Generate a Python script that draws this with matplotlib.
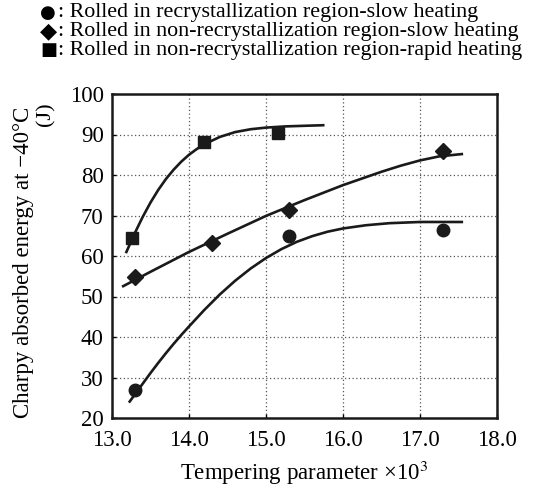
import matplotlib
matplotlib.use("Agg")
import matplotlib.pyplot as plt

plt.rcParams['font.family'] = ['Liberation Serif', 'DejaVu Sans']
plt.rcParams['mathtext.fontset'] = 'stix'

# Measured points
circle_x = [13.3, 15.3, 17.3]
circle_y = [26.9, 65.0, 66.4]
diamond_x = [13.3, 14.3, 15.3, 17.3]
diamond_y = [54.9, 63.1, 71.4, 86.0]
square_x = [13.26, 14.2, 15.16]
square_y = [64.4, 88.2, 90.3]

# Trend curves
circle_cx = [13.22, 13.3, 13.4, 13.5, 13.6, 13.7, 13.8, 13.9, 14.0, 14.2, 14.4, 14.6,
             14.8, 15.0, 15.2, 15.4, 15.6, 15.8, 16.0, 16.3, 16.6, 17.0, 17.56]
circle_cy = [23.8, 25.9, 28.5, 31.1, 33.6, 36.0, 38.3, 40.5, 42.6, 46.7, 50.5, 53.9,
             56.9, 59.5, 61.7, 63.5, 64.9, 66.0, 66.8, 67.6, 68.1, 68.4, 68.4]
diamond_cx = [13.13, 13.5, 14.0, 14.5, 15.0, 15.5, 16.0, 16.5, 16.75, 17.0, 17.25, 17.56]
diamond_cy = [52.4, 56.1, 61.0, 65.5, 69.9, 73.8, 77.5, 80.8, 82.3, 83.6, 84.6, 85.2]
square_cx = [13.18, 13.3, 13.4, 13.5, 13.6, 13.7, 13.8, 13.9, 14.0, 14.1, 14.2, 14.4,
             14.6, 14.8, 15.0, 15.25, 15.5, 15.76]
square_cy = [60.7, 65.8, 69.7, 73.2, 76.3, 79.0, 81.3, 83.3, 85.0, 86.4, 87.6, 89.4,
             90.6, 91.3, 91.7, 92.0, 92.15, 92.3]

xticks = [13.0, 14.0, 15.0, 16.0, 17.0, 18.0]
yticks = [20, 30, 40, 50, 60, 70, 80, 90, 100]

legend_labels = [
    ("\u25cf", ": Rolled in recrystallization region-slow heating"),
    ("\u25c6", ": Rolled in non-recrystallization region-slow heating"),
    ("\u25a0", ": Rolled in non-recrystallization region-rapid heating"),
]
legend_sym_sizes = [13, 16, 13]

fig = plt.figure(figsize=(5.55, 4.88), dpi=100)
ax = fig.add_axes([112/555, 70/488, 385/555, 324/488])

lw = 1.9
for cx, cy in [(circle_cx, circle_cy), (diamond_cx, diamond_cy), (square_cx, square_cy)]:
    ax.plot(cx, cy, color='#1a1a1a', lw=lw, solid_capstyle='butt', solid_joinstyle='round')

ax.plot(circle_x, circle_y, 'o', color='#1a1a1a', ms=9, ls='none')
ax.plot(diamond_x, diamond_y, 'D', color='#1a1a1a', ms=8, ls='none')
ax.plot(square_x, square_y, 's', color='#1a1a1a', ms=9, ls='none')

ax.set_xlim(13.0, 18.0)
ax.set_ylim(20, 100)
ax.set_xticks(xticks)
ax.set_xticklabels([f"{t:.1f}" for t in xticks])
ax.set_yticks(yticks)
ax.grid(True, ls=(0, (1, 2)), color='#555555', lw=0.9)
ax.tick_params(axis='both', direction='in', length=3, labelsize=16.5, width=1)
ax.tick_params(axis='x', pad=9)
ax.tick_params(axis='y', pad=6)
for s in ax.spines.values():
    s.set_linewidth(1.8)
    s.set_color('#1a1a1a')

ax.set_xlabel("Tempering parameter \u00d710$^3$", fontsize=16.5, labelpad=5)
fig.text(24/555, 1 - 262/488, "Charpy absorbed energy at \u221240\u00b0C",
         rotation=90, ha='center', va='center', fontsize=16.5)
fig.text(46/555, 1 - 114/488, "(J)", rotation=90, ha='center', va='center', fontsize=16)

for i, (sym, lab) in enumerate(legend_labels):
    y = 1 - (13 + 18.5 * i) / 488
    fig.text(40/555, y, sym, ha='left', va='center', fontsize=legend_sym_sizes[i],
             family=['DejaVu Sans'])
    fig.text(58/555, y, lab, ha='left', va='center', fontsize=15.8)

fig.savefig("out.png", dpi=100)
